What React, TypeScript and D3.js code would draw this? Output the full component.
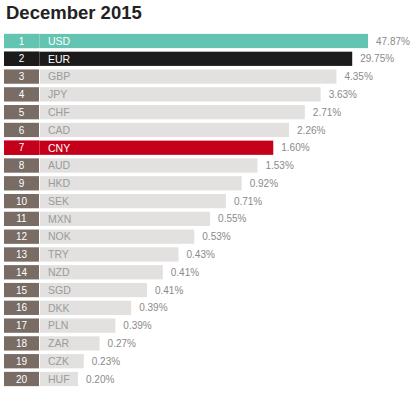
import React from 'react';
import * as d3 from 'd3';

const currencies = ['USD', 'EUR', 'GBP', 'JPY', 'CHF', 'CAD', 'CNY', 'AUD', 'HKD', 'SEK',
  'MXN', 'NOK', 'TRY', 'NZD', 'SGD', 'DKK', 'PLN', 'ZAR', 'CZK', 'HUF'];
const shares = [47.87, 29.75, 4.35, 3.63, 2.71, 2.26, 1.60, 1.53, 0.92, 0.71,
  0.55, 0.53, 0.43, 0.41, 0.41, 0.39, 0.39, 0.27, 0.23, 0.20];
const highlight: { [k: string]: string } = { USD: '#62c4b1', EUR: '#1c1b1b', CNY: '#c4001a' };

const width = 417;
const height = 393;

export default function App() {
  const ranks = d3.range(1, currencies.length + 1);

  const y = d3.scaleBand<number>()
    .domain(ranks)
    .range([33, 387])
    .paddingInner(0.2)
    .paddingOuter(0.05);

  // bar length follows the rank, not the share
  const barEnd = d3.scaleLinear()
    .domain([1, 20])
    .range([368, 68]);

  const boxLeft = 4;
  const boxRight = 39;

  return (
    <div style={{ position: 'absolute', left: 0, top: 0 }}>
      <svg width={width} height={height} style={{ fontFamily: '"Liberation Sans", Arial, sans-serif' }}>
        <text x={6} y={19} fontSize={18.5} fontWeight="bold" fill="#222">December 2015</text>
        {ranks.map((r, i) => {
          const code = currencies[i];
          const yy = y(r)!;
          const h = y.bandwidth();
          const end = Math.max(barEnd(r), 78);
          const col = highlight[code];
          return (
            <g key={code}>
              <rect x={boxLeft} y={yy} width={end - boxLeft} height={h} fill={col || '#e2e1df'} />
              <rect x={boxLeft} y={yy} width={boxRight - boxLeft} height={h} fill={col || '#786c65'} />
              <rect x={boxRight} y={yy} width={1} height={h} fill="#fff" opacity={col ? 0.25 : 1} />
              <text x={(boxLeft + boxRight) / 2} y={yy + h / 2} dy="0.36em" textAnchor="middle"
                fontSize={10} fill="#fff">{r}</text>
              <text x={48} y={yy + h / 2} dy="0.36em" fontSize={10.5}
                fill={col ? '#fff' : '#9b9b9b'}>{code}</text>
              <text x={end + 8} y={yy + h / 2} dy="0.36em" fontSize={10} fill="#8a8a8a">
                {shares[i].toFixed(2)}%
              </text>
            </g>
          );
        })}
      </svg>
    </div>
  );
}
